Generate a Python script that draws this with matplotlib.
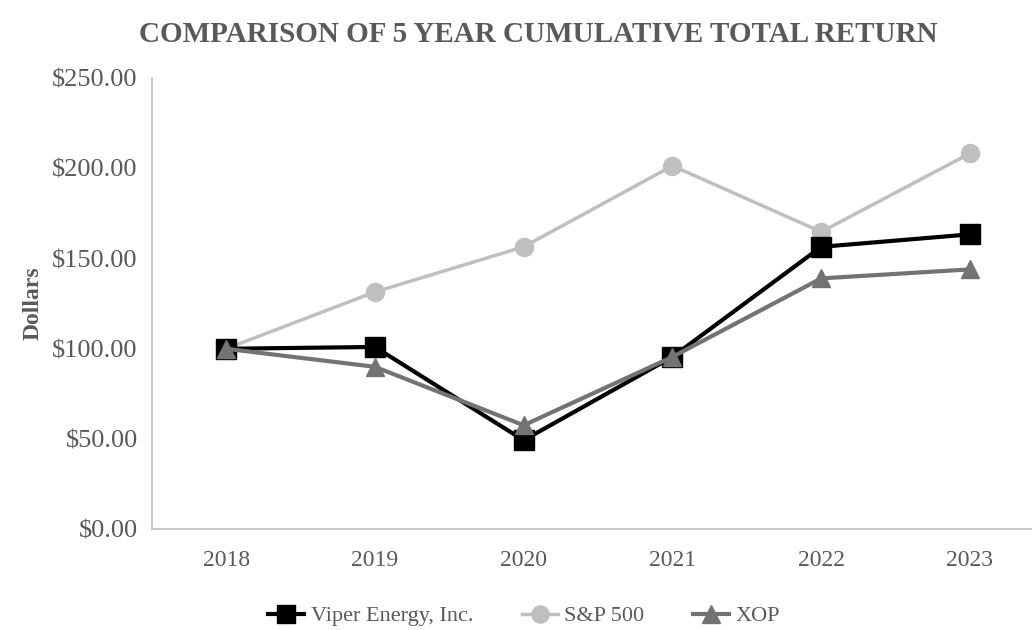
import matplotlib.pyplot as plt

years = ["2018", "2019", "2020", "2021", "2022", "2023"]
viper = [100.0, 101.0, 49.3, 95.5, 156.5, 163.4]
sp500 = [100.0, 131.5, 156.5, 201.4, 164.8, 208.3]
xop = [100.0, 90.0, 57.6, 95.5, 139.0, 144.0]
y_ticks = [0, 50, 100, 150, 200, 250]

plt.rcParams['font.family'] = ['Liberation Serif', 'DejaVu Serif']
txt = '#595959'

fig = plt.figure(figsize=(10.32, 6.3), dpi=100)
ax = fig.add_axes([0.147, 0.160, 0.865, 0.716])

x = range(len(years))
ax.plot(x, viper, color='black', lw=3, marker='s', ms=14, label='Viper Energy, Inc.', zorder=3)
ax.plot(x, sp500, color='#bfbfbf', lw=2.5, marker='o', ms=13, label='S&P 500', zorder=2)
ax.plot(x, xop, color='#737373', lw=3, marker='^', ms=13, label='XOP', zorder=4)

ax.set_xlim(-0.5, len(years) - 0.5)
ax.set_ylim(0, 250)
ax.set_xticks(list(x))
ax.set_xticklabels(years)
ax.set_yticks(y_ticks)
ax.set_yticklabels([f"${v:.2f}" for v in y_ticks])
ax.tick_params(axis='x', length=0, labelsize=17, colors=txt, pad=15)
ax.tick_params(axis='y', length=0, labelsize=19, colors=txt, pad=10)

for s in ['top', 'right']:
    ax.spines[s].set_visible(False)
for s in ['left', 'bottom']:
    ax.spines[s].set_color('#bfbfbf')
    ax.spines[s].set_linewidth(1.2)

ax.set_ylabel("Dollars", fontsize=17, fontweight='bold', color=txt, labelpad=6)
fig.text(0.522, 0.946, "COMPARISON OF 5 YEAR CUMULATIVE TOTAL RETURN",
         ha='center', va='center', fontsize=21, fontweight='bold', color=txt)

fig.legend(loc='center', bbox_to_anchor=(0.508, 0.022), ncol=3, frameon=False,
           fontsize=16, labelcolor=txt, handlelength=1.6, columnspacing=2.2,
           handletextpad=0.3, markerscale=0.95)

fig.savefig("out.png", dpi=100)
